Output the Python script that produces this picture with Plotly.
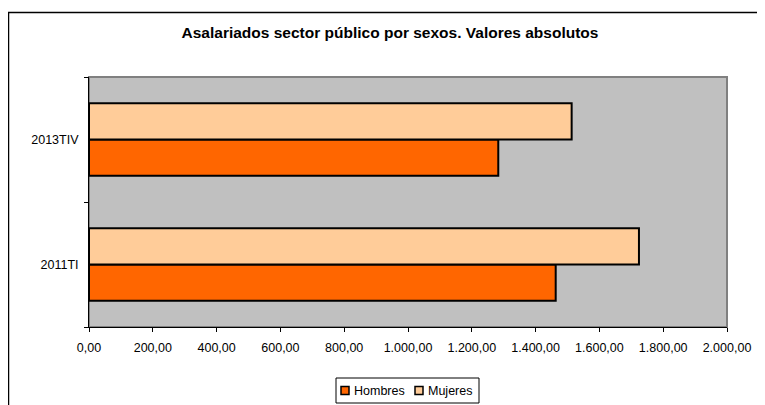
import plotly.graph_objects as go

categories = ["2011TI", "2013TIV"]
hombres = [1463, 1283]
mujeres = [1724, 1513]
series_names = ["Hombres", "Mujeres"]
series_colors = ["#FF6600", "#FFCC99"]
title_text = "Asalariados sector público por sexos. Valores absolutos"

# page body has an 8px margin; work in reference (window) pixel coords and convert
OFF = 8
W, H = 765 - OFF, 405 - OFF
plot_left, plot_right, plot_top, plot_bottom = 89, 727, 77, 327
L, R = plot_left - OFF, W - (plot_right - OFF)
T, B = plot_top - OFF, H - (plot_bottom - OFF)
pw, ph = W - L - R, H - T - B

def px2x(px):
    return (px - OFF - L) / pw

def px2y(py):
    return (plot_bottom - py) / ph

font_family = "Liberation Sans, Arial, sans-serif"

fig = go.Figure()
for name, vals, col in zip(series_names, [hombres, mujeres], series_colors):
    fig.add_trace(go.Bar(y=categories, x=vals, orientation="h", name=name,
                         marker=dict(color=col, line=dict(color="#000000", width=2)),
                         showlegend=False))

# manual compact legend (Excel style)
shapes = [
    dict(type="rect", xref="paper", yref="paper", x0=0, x1=1, y0=0, y1=1,
         line=dict(color="#808080", width=2), layer="below"),
    dict(type="rect", xref="paper", yref="paper",
         x0=px2x(8.5), x1=px2x(780), y0=px2y(420), y1=px2y(12.5),
         line=dict(color="#000000", width=1.5), layer="above"),
    dict(type="rect", xref="paper", yref="paper",
         x0=px2x(336), x1=px2x(479), y0=px2y(403), y1=px2y(378),
         line=dict(color="#000000", width=1), fillcolor="white", layer="above"),
]
annotations = []
legend_x = [(341, 352), (415, 426)]
for (sx, tx), name, col in zip(legend_x, series_names, series_colors):
    shapes.append(dict(type="rect", xref="paper", yref="paper",
                       x0=px2x(sx), x1=px2x(sx + 8), y0=px2y(394.5), y1=px2y(386.5),
                       line=dict(color="#000000", width=1.5), fillcolor=col, layer="above"))
    annotations.append(dict(text=name, xref="paper", yref="paper", x=px2x(tx), y=px2y(390.5),
                            xanchor="left", yanchor="middle", showarrow=False,
                            font=dict(family=font_family, size=12.5, color="#000000")))

fig.update_layout(
    width=W, height=H,
    margin=dict(l=L, r=R, t=T, b=B, pad=0, autoexpand=False),
    paper_bgcolor="white",
    plot_bgcolor="#C0C0C0",
    barmode="group",
    bargap=0.42,
    bargroupgap=0,
    separators=",.",
    font=dict(family=font_family, size=12, color="#000000"),
    title=dict(text="<b>" + title_text + "</b>", x=(390 - OFF) / W, xanchor="center",
               y=1 - (33 - OFF) / H, yanchor="middle", yref="container",
               font=dict(family=font_family, size=15.5, color="#000000")),
    showlegend=False,
    xaxis=dict(range=[0, 2000], dtick=200, tick0=0, tickformat=",.2f",
               showgrid=False, zeroline=False, showline=True, linecolor="#000000", linewidth=1,
               ticks="outside", ticklen=4, tickcolor="#000000", ticklabelstandoff=5,
               tickfont=dict(family=font_family, size=12.5), fixedrange=True),
    yaxis=dict(range=[-0.5, 1.5], type="category", tickson="boundaries",
               showgrid=False, zeroline=False, showline=True, linecolor="#000000", linewidth=1,
               ticks="outside", ticklen=4, tickcolor="#000000", ticklabelstandoff=7,
               tickfont=dict(family=font_family, size=12.5), fixedrange=True),
    shapes=shapes,
    annotations=annotations,
)

fig.write_html("out.html")
